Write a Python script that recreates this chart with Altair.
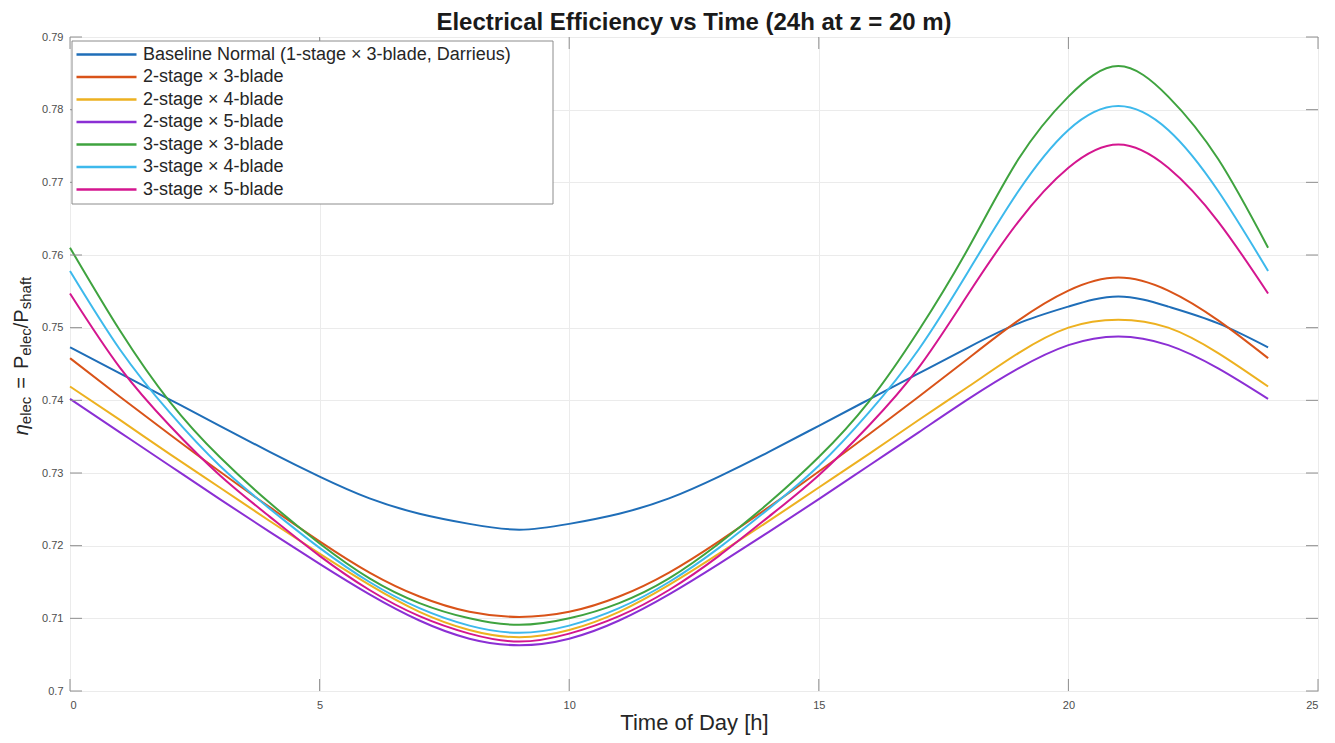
import altair as alt
import pandas as pd

# ---------------- data ----------------
hours = [0, 1, 2, 3, 4, 5, 6, 7, 8, 9, 10, 11, 12, 13, 14, 15, 16, 17, 18, 19, 20, 21, 22, 23, 24]

series_names = [
    "Baseline Normal (1-stage × 3-blade, Darrieus)",
    "2-stage × 3-blade",
    "2-stage × 4-blade",
    "2-stage × 5-blade",
    "3-stage × 3-blade",
    "3-stage × 4-blade",
    "3-stage × 5-blade",
]

baseline_1x3 = [0.7473, 0.7437, 0.7401, 0.7365, 0.7329, 0.7295, 0.7265, 0.7244, 0.7230, 0.7222,
                0.7230, 0.7244, 0.7265, 0.7295, 0.7329, 0.7365, 0.7401, 0.7437, 0.7473, 0.7506,
                0.7529, 0.7543, 0.7529, 0.7506, 0.7473]
stage2_blade3 = [0.7458, 0.7405, 0.7353, 0.7302, 0.7253, 0.7206, 0.7163, 0.7130, 0.7109, 0.7102,
                 0.7109, 0.7130, 0.7163, 0.7206, 0.7253, 0.7302, 0.7353, 0.7405, 0.7458, 0.7510,
                 0.7551, 0.7569, 0.7551, 0.7510, 0.7458]
stage2_blade4 = [0.7419, 0.7373, 0.7326, 0.7280, 0.7234, 0.7189, 0.7146, 0.7109, 0.7084, 0.7074,
                 0.7084, 0.7109, 0.7146, 0.7189, 0.7234, 0.7280, 0.7326, 0.7373, 0.7419, 0.7465,
                 0.7500, 0.7511, 0.7500, 0.7465, 0.7419]
stage2_blade5 = [0.7402, 0.7356, 0.7310, 0.7264, 0.7219, 0.7175, 0.7133, 0.7097, 0.7072, 0.7063,
                 0.7072, 0.7097, 0.7133, 0.7175, 0.7219, 0.7264, 0.7310, 0.7356, 0.7402, 0.7444,
                 0.7476, 0.7488, 0.7476, 0.7444, 0.7402]
stage3_blade3 = [0.7610, 0.7496, 0.7398, 0.7322, 0.7259, 0.7203, 0.7155, 0.7121, 0.7100, 0.7091,
                 0.7100, 0.7121, 0.7155, 0.7203, 0.7259, 0.7322, 0.7398, 0.7496, 0.7610, 0.7732,
                 0.7818, 0.7860, 0.7818, 0.7732, 0.7610]
stage3_blade4 = [0.7578, 0.7470, 0.7383, 0.7310, 0.7251, 0.7197, 0.7150, 0.7114, 0.7090, 0.7080,
                 0.7090, 0.7114, 0.7150, 0.7197, 0.7251, 0.7310, 0.7383, 0.7470, 0.7578, 0.7688,
                 0.7772, 0.7805, 0.7772, 0.7688, 0.7578]
stage3_blade5 = [0.7547, 0.7445, 0.7365, 0.7297, 0.7240, 0.7186, 0.7139, 0.7103, 0.7079, 0.7068,
                 0.7079, 0.7103, 0.7139, 0.7186, 0.7240, 0.7297, 0.7365, 0.7445, 0.7547, 0.7646,
                 0.7720, 0.7752, 0.7720, 0.7646, 0.7547]

x_ticks = [0, 5, 10, 15, 20, 25]
y_ticks = [0.70, 0.71, 0.72, 0.73, 0.74, 0.75, 0.76, 0.77, 0.78, 0.79]

series_values = [baseline_1x3, stage2_blade3, stage2_blade4, stage2_blade5,
                 stage3_blade3, stage3_blade4, stage3_blade5]

colors = ["#1F6EB8", "#D95319", "#EDB120", "#8B2FD4", "#3FA33F", "#3DB9EC", "#D4168F"]

rows = []
for name, vals in zip(series_names, series_values):
    for t, v in zip(hours, vals):
        rows.append({"t": t, "eta": v, "series": name})
df = pd.DataFrame(rows)

# ---------------- chart ----------------
W, H = 1248, 654
FONT = "Liberation Sans"
TEXT = "#262626"
TICK = "#8f8f8f"

xscale = alt.Scale(domain=[0, 25], nice=False)
yscale = alt.Scale(domain=[0.70, 0.79], nice=False, zero=False)

lines = alt.Chart(df).mark_line(strokeWidth=2, interpolate="natural").encode(
    x=alt.X("t:Q", scale=xscale,
            axis=alt.Axis(values=x_ticks, title="Time of Day [h]", labelPadding=8,
                          titleFontSize=22, titleBaseline="alphabetic", titleY=38)),
    y=alt.Y("eta:Q", scale=yscale,
            axis=alt.Axis(values=y_ticks, format="~g", title=None, labelPadding=7)),
    color=alt.Color("series:N", sort=series_names,
                    scale=alt.Scale(domain=series_names, range=colors),
                    legend=alt.Legend(title=None, orient="none", legendX=2, legendY=3,
                                      symbolType="M-1,0H5", symbolSize=400,
                                      symbolStrokeWidth=2.5, labelFontSize=18,
                                      labelFont=FONT, labelColor=TEXT, labelOffset=45,
                                      rowPadding=1.5, padding=3, labelLimit=600)),
)

one = pd.DataFrame({"k": [0]})

legend_box = alt.Chart(one).mark_rect(fill="white", stroke="#8c8c8c", strokeWidth=1).encode(
    x=alt.value(2), x2=alt.value(483), y=alt.value(4), y2=alt.value(167)
)

ydf = pd.DataFrame({"eta": y_ticks})
xdf = pd.DataFrame({"t": x_ticks})
yt_left = alt.Chart(ydf).mark_rule(color=TICK, strokeWidth=1).encode(
    y=alt.Y("eta:Q", scale=yscale), x=alt.value(0), x2=alt.value(12))
yt_right = alt.Chart(ydf).mark_rule(color=TICK, strokeWidth=1).encode(
    y=alt.Y("eta:Q", scale=yscale), x=alt.value(W - 12), x2=alt.value(W))
xt_bottom = alt.Chart(xdf).mark_rule(color=TICK, strokeWidth=1).encode(
    x=alt.X("t:Q", scale=xscale), y=alt.value(H), y2=alt.value(H - 12))
xt_top = alt.Chart(xdf).mark_rule(color=TICK, strokeWidth=1).encode(
    x=alt.X("t:Q", scale=xscale), y=alt.value(0), y2=alt.value(12))

# chart title as a text mark above the plot
title = alt.Chart(one).mark_text(
    text="Electrical Efficiency vs Time (24h at z = 20 m)", fontSize=24, fontWeight="bold",
    font=FONT, color="#1a1a1a", align="center", baseline="alphabetic"
).encode(x=alt.value(W / 2), y=alt.value(-7))

# y-axis title pieces:  η_elec  =  P_elec / P_shaft  (rotated)
def piece(txt, ypos, size, xpos, italic=False):
    kw = dict(text=txt, angle=270, fontSize=size, font=FONT, align="center",
              baseline="alphabetic", color=TEXT)
    if italic:
        kw["fontStyle"] = "italic"
    return alt.Chart(one).mark_text(**kw).encode(x=alt.value(xpos), y=alt.value(ypos))

MAINX, SUBX = -42, -39
ytitle = [
    piece("η", 392.7, 20, MAINX, italic=True),
    piece("elec", 373.4, 15, SUBX),
    piece("=", 345.9, 20, MAINX),
    piece("P", 325.3, 20, MAINX),
    piece("elec", 305.0, 15, SUBX),
    piece("/", 288.4, 20, MAINX),
    piece("P", 279.0, 20, MAINX),
    piece("shaft", 256.0, 15, SUBX),
]

chart = alt.layer(
    lines, yt_left, yt_right, xt_bottom, xt_top, legend_box, title, *ytitle
).properties(
    width=W, height=H,
    autosize=alt.AutoSizeParams(type="none"),
    padding={"left": 62, "top": 29, "right": 9, "bottom": 44},
).configure_view(
    stroke="#a6a6a6", strokeWidth=1
).configure_axis(
    grid=True, gridColor="#ebebeb", gridWidth=1, domain=False, ticks=False, tickSize=0,
    labelFont=FONT, labelFontSize=11, labelColor="#4d4d4d",
    titleFont=FONT, titleColor=TEXT, titleFontWeight="normal",
)

chart.save("out.html", embed_options={"renderer": "svg", "actions": False})
